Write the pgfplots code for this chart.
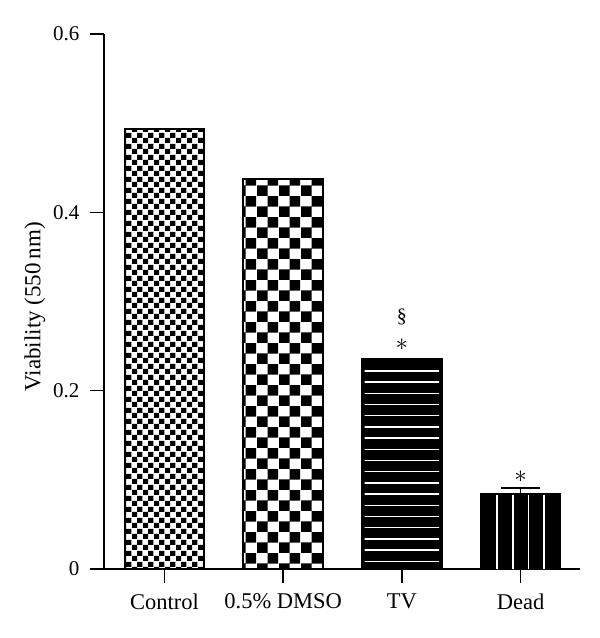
\documentclass[border=0pt]{standalone}
\usepackage{fontspec}
\setmainfont{Liberation Serif}
\usepackage{pgfplots}
\pgfplotsset{compat=1.18}
\usetikzlibrary{patterns}

\pgfdeclarepatternformonly{finechecker}{\pgfpointorigin}{\pgfqpoint{11pt}{11pt}}{\pgfqpoint{11pt}{11pt}}{%
  \pgfpathrectangle{\pgfpointorigin}{\pgfqpoint{5.6pt}{5.6pt}}%
  \pgfpathrectangle{\pgfqpoint{5.5pt}{5.5pt}}{\pgfqpoint{5.6pt}{5.6pt}}%
  \pgfusepath{fill}}
\pgfdeclarepatternformonly{coarsechecker}{\pgfpointorigin}{\pgfqpoint{21.4pt}{21.4pt}}{\pgfqpoint{21.4pt}{21.4pt}}{%
  \pgfpathrectangle{\pgfpointorigin}{\pgfqpoint{10.8pt}{10.8pt}}%
  \pgfpathrectangle{\pgfqpoint{10.7pt}{10.7pt}}{\pgfqpoint{10.8pt}{10.8pt}}%
  \pgfusepath{fill}}

\newcommand{\xfont}{\fontsize{22.5pt}{26pt}\selectfont}
\newcommand{\yfont}{\fontsize{21pt}{25pt}\selectfont}
\newcommand{\labfont}{\fontsize{23pt}{27pt}\selectfont}
\newcommand{\secfont}{\fontsize{20pt}{24pt}\selectfont}
\newcommand{\starfont}{\fontsize{26pt}{30pt}\selectfont}

\begin{document}
\begin{tikzpicture}
\path[use as bounding box] (0,0) rectangle (600pt,638pt);
\begin{axis}[
  at={(104pt,69pt)}, anchor=south west,
  scale only axis, width=476pt, height=535pt,
  xmin=-0.51, xmax=3.5, ymin=0, ymax=0.6,
  axis lines=left,
  axis line style={-, line width=1.5pt, black},
  xtick={0,1,2,3},
  xticklabels={Control, 0.5\% DMSO, TV, Dead},
  ytick={0,0.2,0.4,0.6},
  yticklabels={0,0.2,0.4,0.6},
  tick align=outside,
  major tick length=14pt,
  tick style={line width=1.5pt, black},
  /pgf/number format/assume math mode=true,
  xticklabel style={font=\xfont, yshift=-7pt},
  yticklabel style={font=\yfont, xshift=-7pt},
  label style={font=\labfont},
  ylabel={Viability (550\,nm)},
  ylabel style={at={(axis description cs:-0.145,0.49)}, anchor=center},
  clip=false,
]
\addplot[ybar, bar width=0.67, bar shift=0pt, draw=black, line width=2pt, pattern=finechecker, pattern color=black]
  coordinates {(0,0.493)};
\addplot[ybar, bar width=0.67, bar shift=0pt, draw=black, line width=2pt, pattern=coarsechecker, pattern color=black]
  coordinates {(1,0.437)};
\addplot[ybar, bar width=0.67, bar shift=0pt, draw=black, line width=2pt, fill=black]
  coordinates {(2,0.235)};
\addplot[ybar, bar width=0.67, bar shift=0pt, draw=black, line width=2pt, fill=black,
  error bars/.cd, y dir=plus, y explicit,
  error bar style={line width=1.5pt, black, solid},
  error mark=|,
  error mark options={line width=1.5pt, black, mark size=19.5pt}]
  coordinates {(3,0.0838) +- (0,0.0070)};
% white hatching inside the TV and Dead bars
\pgfplotsextra{%
  \begin{scope}
    \clip ([xshift=2.5pt]axis cs:1.665,0) rectangle ([xshift=-2.5pt,yshift=-2pt]axis cs:2.335,0.235);
    \foreach \k in {0,...,17} {
      \draw[white, line width=1.4pt] ([yshift=-11.5pt-11.2pt*\k]axis cs:1.6,0.235) -- ([yshift=-11.5pt-11.2pt*\k]axis cs:2.4,0.235);
    }
  \end{scope}
  \begin{scope}
    \clip ([xshift=1pt]axis cs:2.665,0) rectangle ([xshift=-1pt,yshift=-1.5pt]axis cs:3.335,0.0838);
    \foreach \d in {-23.7,-7.9,7.9,23.7} {
      \draw[white, line width=1.7pt] ([xshift=\d pt]axis cs:3,0) -- ([xshift=\d pt]axis cs:3,0.1);
    }
  \end{scope}
}
\node[font=\secfont, anchor=center, inner sep=0pt] at (axis cs:2,0.2825) {\S};
\node[font=\starfont, anchor=center, inner sep=0pt] at (axis cs:2,0.2515) {$\ast$};
\node[font=\starfont, anchor=center, inner sep=0pt] at (axis cs:3,0.103) {$\ast$};
\end{axis}
\end{tikzpicture}
\end{document}
